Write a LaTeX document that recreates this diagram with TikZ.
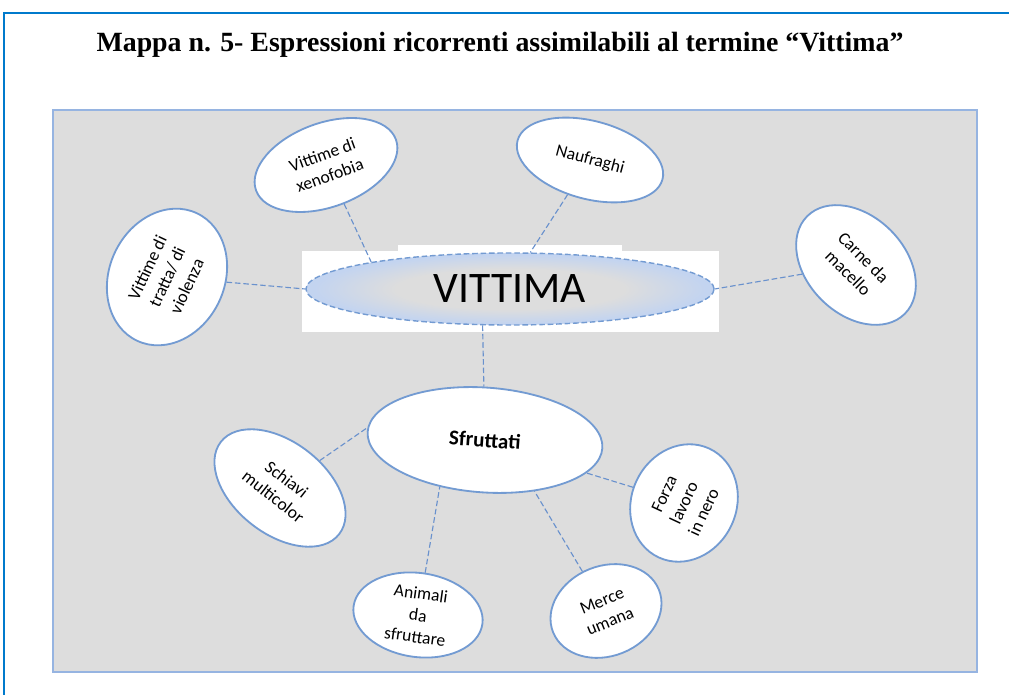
\documentclass[tikz,border=0pt]{standalone}
\usepackage{fontspec}
\setmainfont{Liberation Serif}
\newfontfamily\calibri{Carlito}
\usetikzlibrary{shapes.geometric}

\definecolor{framebl}{RGB}{0,122,204}
\definecolor{bggray}{RGB}{221,221,221}
\definecolor{rectbl}{RGB}{150,180,225}
\definecolor{ellbl}{RGB}{115,155,210}
\definecolor{linkbl}{RGB}{105,145,205}
\definecolor{shadebl}{RGB}{195,212,240}

% sfumatura dell'ellisse centrale
\pgfdeclareradialshading{vittshade}{\pgfpoint{0cm}{0cm}}%
    {color(0bp)=(bggray); color(14bp)=(bggray); color(24bp)=(shadebl); color(50bp)=(shadebl)}

\begin{document}
\begin{tikzpicture}[x=0.025cm, y=-0.025cm,
            % ---- stili ----
            bubble/.style = {ellipse, draw=ellbl, line width=1.3pt, fill=white, inner sep=0pt,
                             align=center, font=\calibri\fontsize{12.5}{15.5}\selectfont},
            link/.style = {draw=linkbl, line width=0.8pt, dash pattern=on 4pt off 2pt}
        ]
        \useasboundingbox (0,0) rectangle (1009,695);

        % ===================== cornice e titolo =====================
        \draw[framebl, line width=2pt] (4,695) -- (4,13) -- (1009,13);
        \node[font=\bfseries\fontsize{19.8}{22}\selectfont] (titolo) at (500,45)
            {Mappa n. 5- Espressioni ricorrenti assimilabili al termine “Vittima”};

        % sfondo grigio
        \draw[rectbl, fill=bggray, line width=1.2pt] (53,110) rectangle (977,672);

        % ===================== nodo centrale =====================
        \fill[white] (302,251) rectangle (719,332);
        \fill[white] (398,245) rectangle (622,256);
        \node[ellipse, draw=ellbl, line width=1pt, dash pattern=on 4pt off 2pt,
              shading=vittshade, inner sep=0pt,
              minimum width=10.2cm, minimum height=1.8cm,
              font=\calibri\fontsize{31}{32}\selectfont] (vittima) at (510,289) {VITTIMA};

        \node[bubble, rotate=-4, minimum width=5.88cm, minimum height=2.62cm,
              font=\calibri\bfseries\fontsize{15}{17}\selectfont] (sfrutt) at (485,440) {Sfruttati};

        % ===================== ellissi esterne =====================
        \node[bubble, rotate=20, minimum width=3.72cm, minimum height=2.1cm] (xeno) at (326,165)
            {Vittime di\\xenofobia};
        \node[bubble, rotate=65, minimum width=3.52cm, minimum height=2.88cm] (tratta) at (167,277)
            {Vittime di\\tratta/ di\\violenza};
        \node[bubble, rotate=-15, minimum width=3.75cm, minimum height=1.95cm] (naufr) at (590,160)
            {Naufraghi};
        \node[bubble, rotate=-45, minimum width=3.45cm, minimum height=2.45cm] (carne) at (856,265)
            {Carne da\\macello};
        \node[bubble, rotate=-38, minimum width=3.75cm, minimum height=2.3cm] (schiavi) at (280,488)
            {Schiavi\\multicolor};
        \node[bubble, rotate=-8, minimum width=3.25cm, minimum height=2.1cm] (animali) at (418,615)
            {Animali\\da\\sfruttare};
        \node[bubble, rotate=22, minimum width=2.85cm, minimum height=2.25cm] (merce) at (606,611)
            {Merce\\umana};
        \node[bubble, rotate=65, minimum width=3.0cm, minimum height=2.62cm] (forza) at (684,503)
            {Forza\\lavoro\\in nero};

        % ---- collegamenti ----
        \draw[link] (xeno) -- (vittima.169);
        \draw[link] (naufr) -- (vittima.61);
        \draw[link] (tratta) -- (vittima.west);
        \draw[link] (carne) -- (vittima.east);
        \draw[link] (vittima.233) -- (sfrutt);
        \draw[link] (schiavi) -- (sfrutt.178);
        \draw[link] (animali) -- (sfrutt.230);
        \draw[link] (merce) -- (sfrutt.318);
        \draw[link] (forza) -- (sfrutt.346);
\end{tikzpicture}
\end{document}
